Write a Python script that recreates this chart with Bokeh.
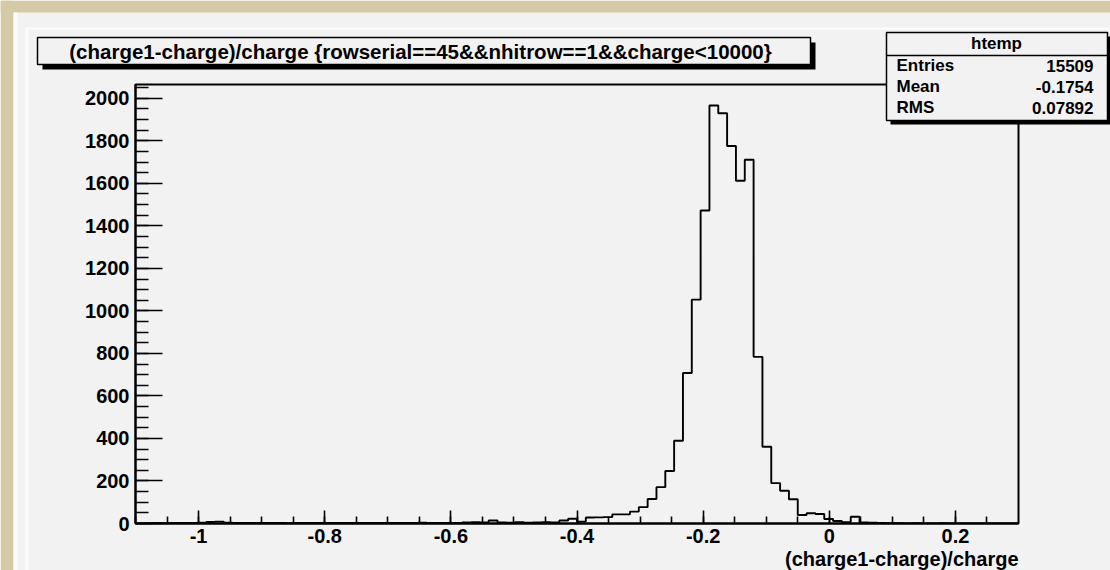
import numpy as np
from bokeh.plotting import figure
from bokeh.models import (GridBox, Label, Range1d, SingleIntervalTicker,
                          CustomJSTickFormatter)
from bokeh.embed import file_html
from bokeh.resources import INLINE

# ---- histogram data -------------------------------------------------------
hist_name = "htemp"
title_text = "(charge1-charge)/charge {rowserial==45&&nhitrow==1&&charge<10000}"
x_title = "(charge1-charge)/charge"
x_low, x_high, n_bins = -1.1, 0.3, 100
counts = [
    0, 1, 2, 1, 2, 3, 2, 4, 7, 9,
    4, 3, 2, 3, 2, 3, 2, 1, 3, 2,
    3, 2, 2, 3, 2, 2, 3, 3, 2, 3,
    2, 3, 4, 3, 3, 2, 3, 5, 6, 5,
    14, 5, 4, 6, 4, 5, 6, 5, 14, 22,
    9, 28, 29, 30, 43, 43, 56, 77, 115, 171,
    247, 389, 708, 1053, 1472, 1966, 1930, 1776, 1612, 1711,
    784, 361, 190, 154, 114, 40, 48, 45, 21, 12,
    6, 32, 5, 4, 2, 1, 1, 0, 1, 0,
    0, 1, 0, 0, 0, 0, 0, 0, 0, 0,
]
stat_names = ["Entries", "Mean", "RMS"]
stat_values = ["15509", "-0.1754", "0.07892"]
y_max = 2065

# ---- page geometry (pixels) ----------------------------------------------
PAGE_W, PAGE_H = 1110, 570
FRAME_L, FRAME_R, FRAME_T, FRAME_B = 135, 1018, 84, 523

BEIGE = "#d5caa6"
PAD = "#f2f2f2"
FONT = "Liberation Sans"

# ---- histogram pad --------------------------------------------------------
p = figure(
    width=PAGE_W, height=PAGE_H,
    x_range=Range1d(x_low, x_high), y_range=Range1d(0, y_max),
    output_backend="svg", toolbar_location=None,
    min_border_left=FRAME_L, min_border_right=PAGE_W - FRAME_R,
    min_border_top=FRAME_T, min_border_bottom=PAGE_H - FRAME_B,
    background_fill_color=PAD, border_fill_color=PAD,
    outline_line_color="black", outline_line_width=2,
    frame_align=False,
)
p.grid.visible = False

# step outline of the histogram
edges = np.linspace(x_low, x_high, n_bins + 1)
xs = np.repeat(edges, 2)
ys = np.concatenate([[0], np.repeat(counts, 2), [0]])
p.line(xs, ys, line_color="black", line_width=1.9)

for ax in (p.xaxis[0], p.yaxis[0]):
    ax.axis_line_color = "black"
    ax.axis_line_width = 2
    ax.major_tick_line_color = "black"
    ax.minor_tick_line_color = "black"
    ax.major_tick_line_width = 1.6
    ax.minor_tick_line_width = 1.6
    ax.major_tick_out = 0
    ax.minor_tick_out = 0
    ax.major_label_text_font = FONT
    ax.major_label_text_font_style = "bold"
    ax.major_label_text_color = "black"
    ax.major_label_text_font_size = "20px"

p.xaxis.ticker = SingleIntervalTicker(interval=0.2, num_minor_ticks=4)
p.xaxis.formatter = CustomJSTickFormatter(
    code="return String(Math.round(tick * 10) / 10 + 0);")
p.xaxis.major_tick_in = 13
p.xaxis.minor_tick_in = 7
p.xaxis.major_label_standoff = 5

p.yaxis.ticker = SingleIntervalTicker(interval=200, num_minor_ticks=4)
p.yaxis.major_tick_in = 27
p.yaxis.minor_tick_in = 13
p.yaxis.major_label_standoff = 6

# ---- canvas decorations: page-pixel coordinates, y pointing down ----------
ov = figure(
    width=PAGE_W, height=PAGE_H,
    x_range=Range1d(0, PAGE_W), y_range=Range1d(PAGE_H, 0),
    output_backend="svg", toolbar_location=None,
    x_axis_location=None, y_axis_location=None,
    min_border=0, outline_line_color=None,
    background_fill_alpha=0, border_fill_alpha=0,
    frame_align=False,
)
ov.grid.visible = False

# canvas surroundings and bevel
ov.quad(left=[0, 0], right=[13, PAGE_W], top=[0, 0], bottom=[PAGE_H, 12],
        fill_color=BEIGE, line_color=None)
ov.quad(left=[13], right=[17], top=[12], bottom=[PAGE_H],
        fill_color="#fbfbfb", line_color=None)
ov.quad(left=[25], right=[28], top=[28], bottom=[PAGE_H],
        fill_color="#fcfcfc", line_color=None)
ov.quad(left=[25], right=[PAGE_W], top=[27], bottom=[29],
        fill_color="#fcfcfc", line_color=None)


def pave(l, t, r, b, shadow):
    ov.quad(left=[l + shadow], right=[r + shadow], top=[t + shadow],
            bottom=[b + shadow], fill_color="black", line_color=None)
    ov.quad(left=[l], right=[r], top=[t], bottom=[b], fill_color=PAD,
            line_color="black", line_width=1.5)


def text(x, y, s, align, size):
    ov.add_layout(Label(x=x, y=y, text=s, text_align=align,
                        text_baseline="middle", text_font=FONT,
                        text_font_style="bold", text_font_size=size,
                        text_color="black"))


# title pave
pave(37, 37, 810, 64, 5)
text(420, 51, title_text, "center", "20.5px")

# statistics box
pave(886, 32, 1107, 120, 4)
ov.segment(x0=[886], x1=[1107], y0=[55], y1=[55], line_color="black",
           line_width=1.5)
text(996, 43, hist_name, "center", "17px")
for i, (name, val) in enumerate(zip(stat_names, stat_values)):
    text(896, 65 + 21 * i, name, "left", "17px")
    text(1093, 65 + 21 * i, val, "right", "17px")

# x-axis title, right-aligned at the frame edge
text(FRAME_R, 558, x_title, "right", "20px")

page = GridBox(children=[(p, 0, 0), (ov, 0, 0)])

open("out.html", "w").write(file_html(page, INLINE))
